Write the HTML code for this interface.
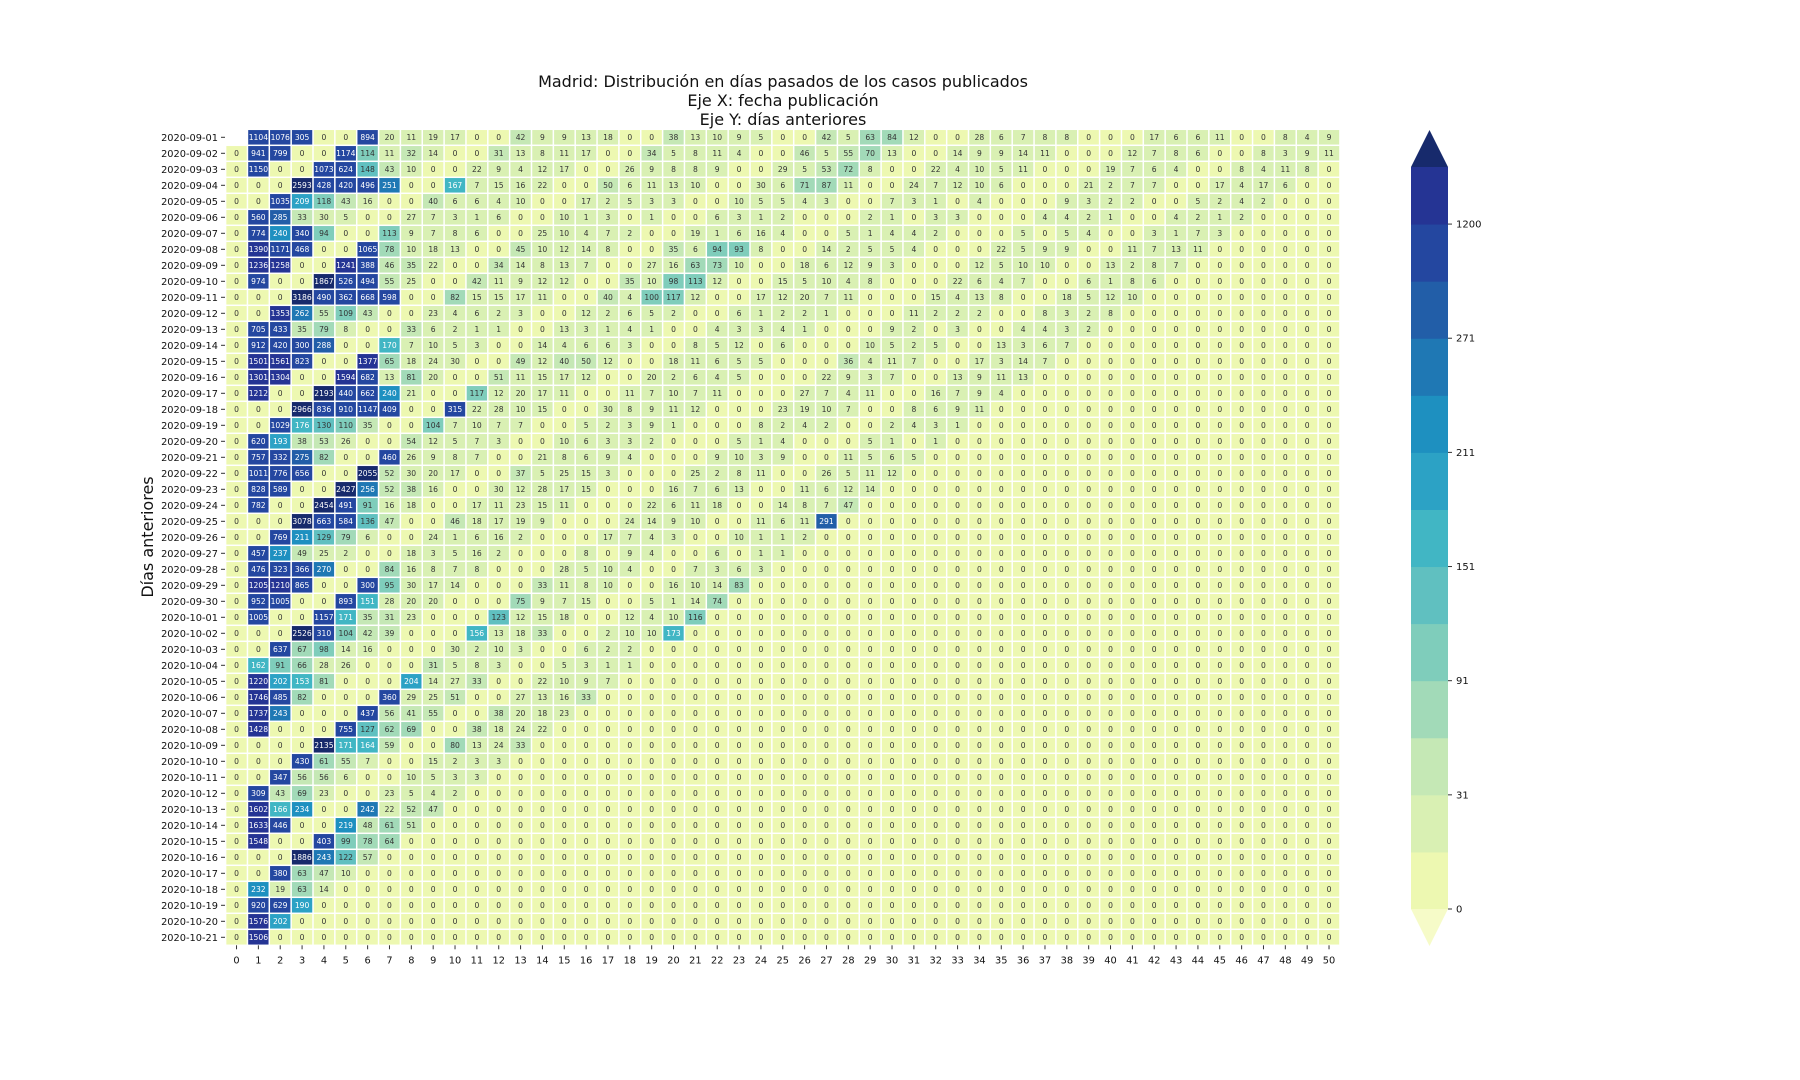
<!DOCTYPE html>
<html><head><meta charset="utf-8">
<style>
html,body{margin:0;padding:0;background:#fff;}
svg{display:block;font-family:"DejaVu Sans","Liberation Sans",sans-serif;}
</style></head>
<body>
<svg id="chart" width="1800" height="1080" viewBox="0 0 1800 1080" xmlns="http://www.w3.org/2000/svg">
<rect width="1800" height="1080" fill="#fff"/>
<g font-size="16" fill="#111" text-anchor="middle">
<text x="783" y="87">Madrid: Distribución en días pasados de los casos publicados</text>
<text x="783" y="106">Eje X: fecha publicación</text>
<text x="783" y="125">Eje Y: días anteriores</text>
</g>
<text x="0" y="0" font-size="16" fill="#111" text-anchor="middle" transform="translate(153,537) rotate(-90)">Días anteriores</text>
<g id="cells"></g>
<g id="yticks"></g>
<g id="xticks"></g>
<g id="cbar"></g>
</svg>
<script>
// ---- data ----
const days = Array.from({length:51},(_, i)=>i);
const dates = ["2020-09-01","2020-09-02","2020-09-03","2020-09-04","2020-09-05","2020-09-06","2020-09-07","2020-09-08","2020-09-09","2020-09-10","2020-09-11","2020-09-12","2020-09-13","2020-09-14","2020-09-15","2020-09-16","2020-09-17","2020-09-18","2020-09-19","2020-09-20","2020-09-21","2020-09-22","2020-09-23","2020-09-24","2020-09-25","2020-09-26","2020-09-27","2020-09-28","2020-09-29","2020-09-30","2020-10-01","2020-10-02","2020-10-03","2020-10-04","2020-10-05","2020-10-06","2020-10-07","2020-10-08","2020-10-09","2020-10-10","2020-10-11","2020-10-12","2020-10-13","2020-10-14","2020-10-15","2020-10-16","2020-10-17","2020-10-18","2020-10-19","2020-10-20","2020-10-21"];
// rows listed up to the last non-zero value; remaining cells in each row are 0
const values = [
[null,1104,1076,305,0,0,894,20,11,19,17,0,0,42,9,9,13,18,0,0,38,13,10,9,5,0,0,42,5,63,84,12,0,0,28,6,7,8,8,0,0,0,17,6,6,11,0,0,8,4,9],
[0,941,799,0,0,1174,114,11,32,14,0,0,31,13,8,11,17,0,0,34,5,8,11,4,0,0,46,5,55,70,13,0,0,14,9,9,14,11,0,0,0,12,7,8,6,0,0,8,3,9,11],
[0,1150,0,0,1073,624,148,43,10,0,0,22,9,4,12,17,0,0,26,9,8,8,9,0,0,29,5,53,72,8,0,0,22,4,10,5,11,0,0,0,19,7,6,4,0,0,8,4,11,8,0],
[0,0,0,2593,428,420,496,251,0,0,167,7,15,16,22,0,0,50,6,11,13,10,0,0,30,6,71,87,11,0,0,24,7,12,10,6,0,0,0,21,2,7,7,0,0,17,4,17,6,0,0],
[0,0,1035,209,118,43,16,0,0,40,6,6,4,10,0,0,17,2,5,3,3,0,0,10,5,5,4,3,0,0,7,3,1,0,4,0,0,0,9,3,2,2,0,0,5,2,4,2],
[0,560,285,33,30,5,0,0,27,7,3,1,6,0,0,10,1,3,0,1,0,0,6,3,1,2,0,0,0,2,1,0,3,3,0,0,0,4,4,2,1,0,0,4,2,1,2],
[0,774,240,340,94,0,0,113,9,7,8,6,0,0,25,10,4,7,2,0,0,19,1,6,16,4,0,0,5,1,4,4,2,0,0,0,5,0,5,4,0,0,3,1,7,3],
[0,1390,1171,468,0,0,1065,78,10,18,13,0,0,45,10,12,14,8,0,0,35,6,94,93,8,0,0,14,2,5,5,4,0,0,0,22,5,9,9,0,0,11,7,13,11],
[0,1236,1258,0,0,1241,388,46,35,22,0,0,34,14,8,13,7,0,0,27,16,63,73,10,0,0,18,6,12,9,3,0,0,0,12,5,10,10,0,0,13,2,8,7],
[0,974,0,0,1867,526,494,55,25,0,0,42,11,9,12,12,0,0,35,10,98,113,12,0,0,15,5,10,4,8,0,0,0,22,6,4,7,0,0,6,1,8,6],
[0,0,0,3186,490,362,668,598,0,0,82,15,15,17,11,0,0,40,4,100,117,12,0,0,17,12,20,7,11,0,0,0,15,4,13,8,0,0,18,5,12,10],
[0,0,1353,262,55,109,43,0,0,23,4,6,2,3,0,0,12,2,6,5,2,0,0,6,1,2,2,1,0,0,0,11,2,2,2,0,0,8,3,2,8],
[0,705,433,35,79,8,0,0,33,6,2,1,1,0,0,13,3,1,4,1,0,0,4,3,3,4,1,0,0,0,9,2,0,3,0,0,4,4,3,2],
[0,912,420,300,288,0,0,170,7,10,5,3,0,0,14,4,6,6,3,0,0,8,5,12,0,6,0,0,0,10,5,2,5,0,0,13,3,6,7],
[0,1501,1561,823,0,0,1377,65,18,24,30,0,0,49,12,40,50,12,0,0,18,11,6,5,5,0,0,0,36,4,11,7,0,0,17,3,14,7],
[0,1301,1304,0,0,1594,682,13,81,20,0,0,51,11,15,17,12,0,0,20,2,6,4,5,0,0,0,22,9,3,7,0,0,13,9,11,13],
[0,1212,0,0,2193,440,662,240,21,0,0,117,12,20,17,11,0,0,11,7,10,7,11,0,0,0,27,7,4,11,0,0,16,7,9,4],
[0,0,0,2966,836,910,1147,409,0,0,315,22,28,10,15,0,0,30,8,9,11,12,0,0,0,23,19,10,7,0,0,8,6,9,11],
[0,0,1029,176,130,110,35,0,0,104,7,10,7,7,0,0,5,2,3,9,1,0,0,0,8,2,4,2,0,0,2,4,3,1],
[0,620,193,38,53,26,0,0,54,12,5,7,3,0,0,10,6,3,3,2,0,0,0,5,1,4,0,0,0,5,1,0,1],
[0,757,332,275,82,0,0,460,26,9,8,7,0,0,21,8,6,9,4,0,0,0,9,10,3,9,0,0,11,5,6,5],
[0,1011,776,656,0,0,2055,52,30,20,17,0,0,37,5,25,15,3,0,0,0,25,2,8,11,0,0,26,5,11,12],
[0,828,589,0,0,2427,256,52,38,16,0,0,30,12,28,17,15,0,0,0,16,7,6,13,0,0,11,6,12,14],
[0,782,0,0,2454,491,91,16,18,0,0,17,11,23,15,11,0,0,0,22,6,11,18,0,0,14,8,7,47],
[0,0,0,3078,663,584,136,47,0,0,46,18,17,19,9,0,0,0,24,14,9,10,0,0,11,6,11,291],
[0,0,769,211,129,79,6,0,0,24,1,6,16,2,0,0,0,17,7,4,3,0,0,10,1,1,2],
[0,457,237,49,25,2,0,0,18,3,5,16,2,0,0,0,8,0,9,4,0,0,6,0,1,1],
[0,476,323,366,270,0,0,84,16,8,7,8,0,0,0,28,5,10,4,0,0,7,3,6,3,0],
[0,1205,1210,865,0,0,300,95,30,17,14,0,0,0,33,11,8,10,0,0,16,10,14,83,0,0],
[0,952,1005,0,0,893,151,28,20,20,0,0,0,75,9,7,15,0,0,5,1,14,74,0,0,0],
[0,1005,0,0,1157,171,35,31,23,0,0,0,123,12,15,18,0,0,12,4,10,116],
[0,0,0,2526,310,104,42,39,0,0,0,156,13,18,33,0,0,2,10,10,173],
[0,0,637,67,98,14,16,0,0,0,30,2,10,3,0,0,6,2,2],
[0,162,91,66,28,26,0,0,0,31,5,8,3,0,0,5,3,1,1],
[0,1220,202,153,81,0,0,0,204,14,27,33,0,0,22,10,9,7],
[0,1746,485,82,0,0,0,360,29,25,51,0,0,27,13,16,33],
[0,1737,243,0,0,0,437,56,41,55,0,0,38,20,18,23],
[0,1428,0,0,0,755,127,62,69,0,0,38,18,24,22],
[0,0,0,0,2135,171,164,59,0,0,80,13,24,33],
[0,0,0,430,61,55,7,0,0,15,2,3,3],
[0,0,347,56,56,6,0,0,10,5,3,3],
[0,309,43,69,23,0,0,23,5,4,2],
[0,1602,166,234,0,0,242,22,52,47],
[0,1633,446,0,0,219,48,61,51],
[0,1548,0,0,403,99,78,64],
[0,0,0,1886,243,122,57],
[0,0,380,63,47,10],
[0,232,19,63,14],
[0,920,629,190],
[0,1576,202],
[0,1506]
];
const levelBounds = [0,1,31,61,91,121,151,181,211,241,271,295,1200,1800];
const levelColors = ["#edf8b1","#d9f0b3","#c5e8b5","#a2dab8","#7fcdbb","#60c0c0","#41b6c4","#2ca2c5","#1e90c0","#1f78b4","#225ea8","#2447a0","#253494"];
const cbarTicks = ["0","31","91","151","211","271","1200"];

// ---- layout ----
const NS="http://www.w3.org/2000/svg";
const X0=225.6, Y0=129.3, CW=21.85, CH=16.0;
const xPos = j => X0 + j*CW;
const yPos = i => Y0 + i*CH;
function mk(tag, attrs, parent){const e=document.createElementNS(NS,tag);for(const k in attrs)e.setAttribute(k,attrs[k]);parent.appendChild(e);return e;}
function colorFor(v){
  if(v>=1800) return "#172a6c";
  for(let b=levelColors.length-1;b>=0;b--){ if(v>=levelBounds[b]) return levelColors[b]; }
  return levelColors[0];
}
const cells=document.getElementById('cells');
for(let i=0;i<dates.length;i++){
  const row=values[i];
  for(let j=0;j<days.length;j++){
    const v = j<row.length ? row[j] : 0;
    if(v===null) continue;
    const r=mk('rect',{x:(xPos(j)+0.75).toFixed(2),y:(yPos(i)+0.75).toFixed(2),width:(CW-1.5).toFixed(2),height:(CH-1.5).toFixed(2),fill:colorFor(v)},cells);
    
    
    const t=mk('text',{x:(xPos(j)+CW/2).toFixed(2),y:(yPos(i)+CH/2+2.8).toFixed(2),'font-size':'7.6','text-anchor':'middle',fill:(v>=151?'#ffffff':'#333333')},cells);
    
    
    t.textContent=String(v);
  }
}
const yt=document.getElementById('yticks');
dates.forEach((d,i)=>{
  const cy=yPos(i)+CH/2;
  mk('line',{x1:221,x2:225,y1:cy,y2:cy,stroke:'#333','stroke-width':1},yt);
  const t=mk('text',{x:218,y:(cy+3.5).toFixed(2),'font-size':'9.8','text-anchor':'end',fill:'#111'},yt);
  
  
  t.textContent=d;
});
const xt=document.getElementById('xticks');
const yB=yPos(dates.length);
days.forEach(j=>{
  const cx=xPos(j)+CW/2;
  mk('line',{x1:cx,x2:cx,y1:yB,y2:yB+4,stroke:'#333','stroke-width':1},xt);
  const t=mk('text',{x:cx.toFixed(2),y:(yB+18).toFixed(2),'font-size':'9.8','text-anchor':'middle',fill:'#111'},xt);
  
  
  t.textContent=String(j);
});
// colorbar
const cb=document.getElementById('cbar');
const CBX=1411, CBW=37, CBT=167, CBB=909;
const bandH=(CBB-CBT)/levelColors.length;
levelColors.forEach((c,b)=>{
  const r=mk('rect',{x:CBX,y:(CBB-(b+1)*bandH).toFixed(2),width:CBW,height:(bandH+0.5).toFixed(2),fill:c},cb);
  
  
});
mk('polygon',{points:`${CBX},${CBT} ${CBX+CBW},${CBT} ${CBX+CBW/2},130`,fill:'#172a6c'},cb);
mk('polygon',{points:`${CBX},${CBB} ${CBX+CBW},${CBB} ${CBX+CBW/2},946`,fill:'#f6fbc8'},cb);
cbarTicks.forEach((lab,k)=>{
  const y=CBB-k*2*bandH;
  mk('line',{x1:CBX+CBW,x2:CBX+CBW+4,y1:y,y2:y,stroke:'#333','stroke-width':1},cb);
  const t=mk('text',{x:CBX+CBW+8,y:(y+3.5).toFixed(2),'font-size':'10',fill:'#111'},cb);
  
  
  t.textContent=lab;
});
</script>
</body></html>
